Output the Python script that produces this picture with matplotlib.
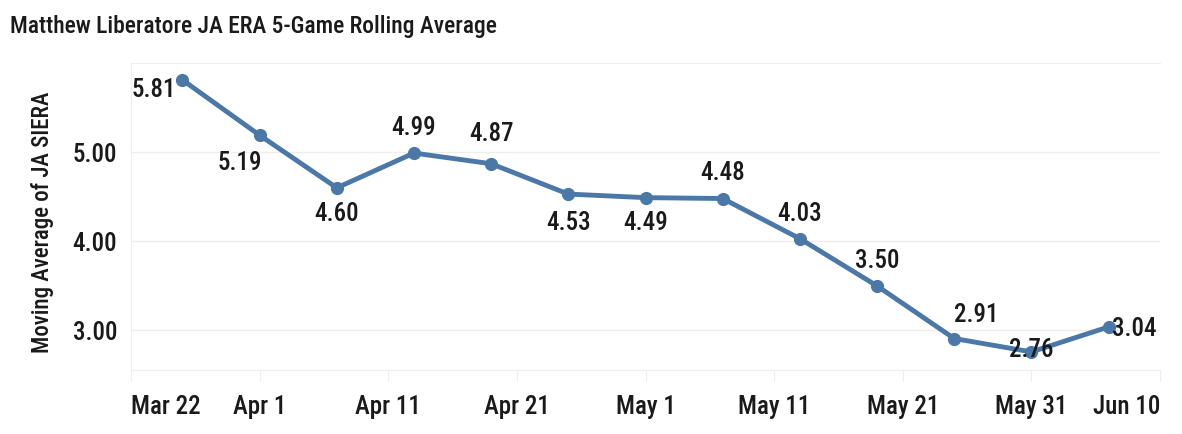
import matplotlib
matplotlib.use('Agg')
import matplotlib.pyplot as plt
from matplotlib import font_manager
import pandas as pd

# data
dates = ['2024-03-26', '2024-04-01', '2024-04-07', '2024-04-13', '2024-04-19',
         '2024-04-25', '2024-05-01', '2024-05-07', '2024-05-13', '2024-05-19',
         '2024-05-25', '2024-05-31', '2024-06-06']
siera = [5.81, 5.19, 4.60, 4.99, 4.87, 4.53, 4.49, 4.48, 4.03, 3.50, 2.91, 2.76, 3.04]
# label offsets in pixels (dx, dy, ha)
label_pos = [(-6, -10, 'right'), (-20, -28, 'center'), (0, -26, 'center'), (0, 25, 'center'),
             (0, 30, 'center'), (0, -29, 'center'), (0, -25, 'center'), (0, 26, 'center'),
             (0, 25, 'center'), (0, 25, 'center'), (22, 24, 'center'), (0, 2, 'center'),
             (3, -2, 'left')]

x = pd.to_datetime(dates)

names = {f.name for f in font_manager.fontManager.ttflist}
family = 'DejaVu Sans'
for cand in ['Liberation Sans Narrow', 'Roboto Condensed', 'Open Sans Condensed', 'DejaVu Sans Condensed']:
    if cand in names:
        family = cand
        break
plt.rcParams['font.family'] = family
plt.rcParams['font.weight'] = 'medium'

color = '#4c78a8'
grid = '#eeeeee'
text = '#1a1a1a'

fig = plt.figure(figsize=(11.82, 4.34), dpi=100)
ax = fig.add_axes([131 / 1182, 1 - 370 / 434, 1029 / 1182, 307 / 434])

ax.plot(x, siera, color=color, linewidth=3.5, marker='o', markersize=8.5, zorder=3)

for xi, yi, (dx, dy, ha) in zip(x, siera, label_pos):
    ax.annotate(f'{yi:.2f}', (xi, yi), xytext=(dx, dy), textcoords='offset pixels',
                ha=ha, va='center', fontsize=18, color=text, zorder=4)

ax.set_xlim(pd.Timestamp('2024-03-22'), pd.Timestamp('2024-06-10'))
ax.set_ylim(2.557, 6.0)
ax.set_yticks([3, 4, 5])
ax.set_yticklabels(['3.00', '4.00', '5.00'])
ticks = pd.date_range('2024-03-22', '2024-06-10', freq='10D')
ax.set_xticks(ticks)
ax.set_xticklabels([d.strftime('%b ') + str(d.day) for d in ticks])
labels = ax.get_xticklabels()
labels[0].set_ha('left')
labels[-1].set_ha('right')

ax.grid(True, axis='y', color=grid, linewidth=1)
ax.set_axisbelow(True)
ax.spines['right'].set_visible(False)
for s in ['top', 'bottom', 'left']:
    ax.spines[s].set_color(grid)
ax.tick_params(axis='x', colors=grid, length=8, pad=10, labelsize=18, labelcolor=text)
ax.tick_params(axis='y', length=0, pad=10, labelsize=18, labelcolor=text)

ax.set_ylabel('Moving Average of JA SIERA', fontsize=16.5, fontweight='medium', color=text)
ax.yaxis.set_label_coords(-77 / 1029, 0.48)
fig.text(10 / 1182, 1 - 27 / 434, 'Matthew Liberatore JA ERA 5-Game Rolling Average',
         fontsize=16.9, color=text, va='center', ha='left')

fig.savefig('out.png', dpi=100)
